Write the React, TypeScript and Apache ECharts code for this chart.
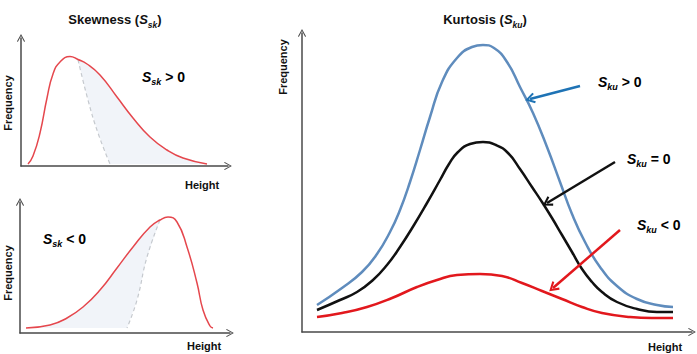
import React, { useEffect, useRef } from "react";
import * as echarts from "echarts";

// ---- data (x = height, y = frequency, arbitrary units) ----
const skewPosCurve: number[][] = [
  [7, 2], [12, 10], [19, 33], [26, 68], [32, 92], [39, 104], [49, 109.5], [57, 106.5],
  [66, 102], [79, 91], [96, 69], [112, 48], [129, 29], [146, 16], [162, 8], [186, 2],
];
const skewPosRef: number[][] = [[57, 106.5], [67, 66], [77, 33], [89, 2]];

const skewNegCurve: number[][] = [
  [6, 5], [30, 8], [47, 15], [63, 26], [80, 43], [97, 65], [113, 86], [130, 106],
  [140, 113], [148, 116], [157, 111], [167, 86], [177, 50], [183, 23], [190, 7], [193, 5],
];
const skewNegRef: number[][] = [[140, 113], [127, 76], [117, 33], [107, 5]];

const kurtPos: number[][] = [
  [15, 27], [40, 44], [60, 60], [75, 78], [88, 100], [98, 122], [108, 150], [118, 182],
  [128, 215], [140, 250], [155, 274], [170, 285], [181, 287], [192, 284], [205, 270],
  [218, 245], [231, 219], [245, 185], [258, 150], [270, 118], [283, 90], [298, 65],
  [315, 46], [335, 33], [355, 27], [371, 25],
];
const kurtZero: number[][] = [
  [15, 22], [38, 32], [55, 40], [71, 52], [85, 67], [98, 85], [112, 107], [125, 129],
  [138, 152], [147, 168], [156, 180], [168, 188], [181, 190], [194, 187], [206, 179],
  [218, 163], [230, 145], [240, 130], [250, 114], [260, 97], [270, 80], [280, 63],
  [290, 50], [300, 40], [315, 30], [335, 23], [355, 20], [371, 20],
];
const kurtNeg: number[][] = [
  [15, 15], [40, 19], [65, 25], [90, 34], [115, 45], [135, 52], [155, 57], [178, 58],
  [200, 56], [220, 49], [240, 41], [260, 33], [280, 25], [300, 19], [328, 15], [350, 14], [371, 14],
];

const arrowPos = [[278, 246], [228, 233]];
const arrowZero = [[313, 170], [245, 129]];
const arrowNeg = [[318, 102], [251, 44]];

const FONT = "Liberation Sans, Arial, sans-serif";
const chevron = "path://M5,0 L10,8.5 L8.4,9.6 L5,3.6 L1.6,9.6 L0,8.5 Z";
const thinChevron = "path://M5,0 L10,9 L9,9.7 L5,2.2 L1,9.7 L0,9 Z";

function fillPoints(curve: number[][], ref: number[][], rightSide: boolean) {
  const start = ref[0][0];
  const part = curve.filter((p) => (rightSide ? p[0] >= start : p[0] <= start));
  const base = ref[ref.length - 1];
  if (rightSide) {
    return [...part, [part[part.length - 1][0], base[1]], ...[...ref].reverse()];
  }
  return [...part, ...ref, [part[0][0], base[1]]];
}

const richSub = (size: number, subSize: number) => ({
  S: { fontFamily: FONT, fontSize: size, fontWeight: "bold", fontStyle: "italic", color: "#111", verticalAlign: "top", lineHeight: size + 3 },
  sub: { fontFamily: FONT, fontSize: subSize, fontWeight: "bold", fontStyle: "italic", color: "#111", verticalAlign: "bottom", lineHeight: subSize + 3, padding: [6, 0, 0, 0] },
  t: { fontFamily: FONT, fontSize: size, fontWeight: "bold", color: "#111", verticalAlign: "top", lineHeight: size + 3 },
});

export default function App() {
  const ref = useRef<HTMLDivElement>(null);
  useEffect(() => {
    if (!ref.current) return;
    const chart = echarts.init(ref.current, undefined, { renderer: "svg" });

    const grids = [
      { left: 21, top: 38, width: 207, height: 128 },
      { left: 20, top: 202, width: 210, height: 131 },
      { left: 302, top: 33, width: 390, height: 299 },
    ];
    const axisLine = {
      show: true,
      symbol: ["none", thinChevron],
      symbolSize: [8, 8],
      lineStyle: { color: "#4a4a4a", width: 1.5 },
    };
    const mkAxis = (i: number, max: number) => ({
      type: "value", gridIndex: i, min: 0, max,
      axisLine, axisTick: { show: false }, axisLabel: { show: false }, splitLine: { show: false },
    });

    const fillSeries = (i: number, pts: number[][]) => ({
      type: "custom", xAxisIndex: i, yAxisIndex: i, silent: true, z: 1,
      data: [[0, 0]],
      renderItem: (params: any, api: any) => ({
        type: "polygon",
        shape: { points: pts.map((p) => api.coord(p)) },
        style: { fill: "#f1f4f9" },
      }),
    });
    const line = (i: number, data: number[][], color: string, width: number, dashed = false, z = 3) => ({
      type: "line", xAxisIndex: i, yAxisIndex: i, data, smooth: true, showSymbol: false, silent: true, z,
      lineStyle: { color, width, type: dashed ? [4, 3] : "solid" },
    });
    const arrow = (pts: number[][], color: string) => ({
      silent: true,
      symbol: ["none", chevron],
      symbolSize: [11, 10],
      label: { show: false },
      lineStyle: { color, width: 2.5, type: "solid" },
      data: [[{ coord: pts[0] }, { coord: pts[1] }]],
    });

    const txt = (x: number, y: number, text: string, rot = 0) => ({
      type: "text", x, y, rotation: rot,
      style: { text, fontFamily: FONT, fontSize: 11, fontWeight: "bold", fill: "#111", align: rot ? "center" : "left", verticalAlign: "middle" },
    });
    const richLabel = (x: number, y: number, sub: string, rel: string) => ({
      type: "text", x, y,
      style: { text: `{S|S}{sub|${sub}}{t| ${rel} 0}`, rich: richSub(14, 9), verticalAlign: "middle", align: "left" },
    });

    chart.setOption({
      animation: false,
      title: [
        {
          text: "{t|Skewness (}{S|S}{sub|sk}{t|)}", left: 115, top: 13, textAlign: "center", padding: 0,
          textStyle: { rich: richSub(13, 8.5) },
        },
        {
          text: "{t|Kurtosis (}{S|S}{sub|ku}{t|)}", left: 485, top: 13, textAlign: "center", padding: 0,
          textStyle: { rich: richSub(13, 8.5) },
        },
      ],
      grid: grids,
      xAxis: grids.map((g, i) => mkAxis(i, g.width)),
      yAxis: grids.map((g, i) => mkAxis(i, g.height)),
      series: [
        fillSeries(0, fillPoints(skewPosCurve, skewPosRef, true)),
        line(0, skewPosRef, "#c5c9ce", 1.2, true, 2),
        line(0, skewPosCurve, "#e5474d", 1.5),
        fillSeries(1, fillPoints(skewNegCurve, skewNegRef, false)),
        line(1, skewNegRef, "#c5c9ce", 1.2, true, 2),
        line(1, skewNegCurve, "#e5474d", 1.5),
        { ...line(2, kurtPos, "#5f8cbd", 2.5), markLine: arrow(arrowPos, "#1e73b5") },
        { ...line(2, kurtZero, "#111111", 2.5), markLine: arrow(arrowZero, "#111111") },
        { ...line(2, kurtNeg, "#e2181d", 2.5), markLine: arrow(arrowNeg, "#e2181d") },
      ],
      graphic: [
        txt(8, 103, "Frequency", Math.PI / 2),
        txt(185, 185, "Height"),
        txt(8, 273, "Frequency", Math.PI / 2),
        txt(187, 346, "Height"),
        txt(283, 67, "Frequency", Math.PI / 2),
        txt(648, 347, "Height"),
        richLabel(142, 78, "sk", ">"),
        richLabel(43, 240, "sk", "<"),
        richLabel(598, 83, "ku", ">"),
        richLabel(627, 160, "ku", "="),
        richLabel(637, 226, "ku", "<"),
      ],
    });
    return () => chart.dispose();
  }, []);
  return <div ref={ref} style={{ width: 697, height: 354, position: "absolute", left: 0, top: 0 }} />;
}
